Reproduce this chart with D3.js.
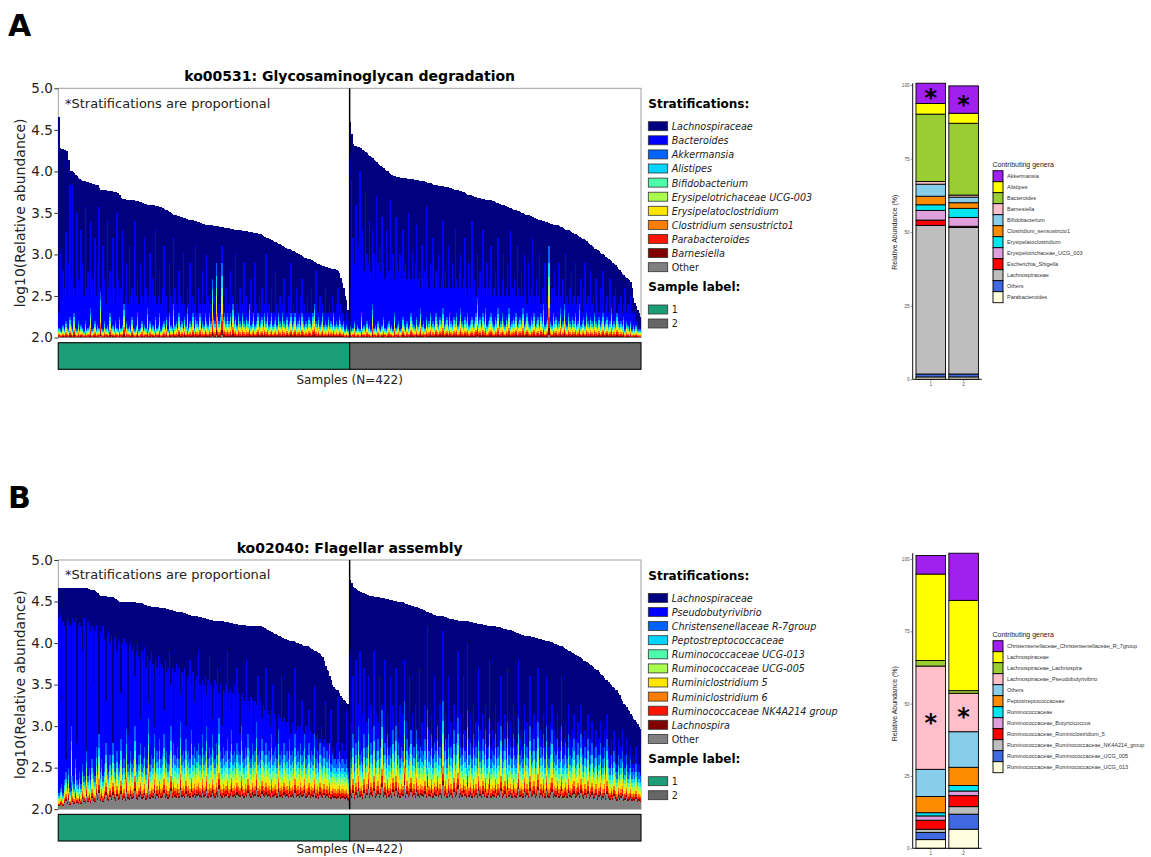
<!doctype html>
<html lang="en">
<head>
<meta charset="utf-8" />
<title>Stratified contributions</title>
<script src="https://d3js.org/d3.v7.min.js"></script>
<script>window.d3 || document.write('<script src="https://cdn.jsdelivr.net/npm/d3@7"><\/script>');</script>
<script>window.d3 || document.write('<script src="https://unpkg.com/d3@7/dist/d3.min.js"><\/script>');</script>
<style>
  body { margin: 0; background: #fff; }
  svg { display: block; font-family: "DejaVu Sans", Verdana, sans-serif; }
</style>
</head>
<body>
<svg id="main" width="1151" height="857"></svg>
<script>
// ---- panel A: ko00531 ----
const taxaA = ['Lachnospiraceae', 'Bacteroides', 'Akkermansia', 'Alistipes', 'Bifidobacterium',
  'Erysipelotrichaceae UCG-003', 'Erysipelatoclostridium', 'Clostridium sensustricto1',
  'Parabacteroides', 'Barnesiella', 'Other'];
// share of the minor band (legend order, Akkermansia ... Other)
const minorShareA = [0.18, 0.16, 0.10, 0.12, 0.12, 0.10, 0.12, 0.07, 0.03];

const totalA1 = [4.66,
  4.28, 4.27, 4.27, 4.26, 4.25, 4.24, 4.14,
  4.01, 4.0, 3.99, 3.98, 3.96, 3.94, 3.92, 3.91, 3.9, 3.89,
  3.88, 3.88, 3.87, 3.87, 3.86, 3.86, 3.85, 3.85, 3.84, 3.84, 3.83, 3.8,
  3.78, 3.78, 3.77, 3.77, 3.77, 3.76, 3.76, 3.76, 3.76, 3.75, 3.75, 3.75, 3.74, 3.74, 3.72,
  3.68, 3.67, 3.67, 3.67, 3.66, 3.66, 3.66, 3.65, 3.65, 3.65, 3.64, 3.64, 3.64, 3.63, 3.63,
  3.62, 3.62, 3.61, 3.61, 3.6, 3.6, 3.6, 3.59, 3.59, 3.59, 3.58, 3.58, 3.58, 3.57, 3.57,
  3.56, 3.55, 3.54, 3.53, 3.52, 3.51, 3.5, 3.49, 3.48, 3.47, 3.47, 3.46, 3.46, 3.45,
  3.45, 3.44, 3.44, 3.43, 3.43, 3.42, 3.42, 3.41, 3.41, 3.4, 3.4, 3.39, 3.39, 3.38, 3.38,
  3.37, 3.37, 3.36, 3.36, 3.36, 3.35, 3.35, 3.35, 3.34, 3.34, 3.34, 3.34, 3.33, 3.33, 3.33, 3.33, 3.32, 3.32, 3.32, 3.32, 3.31, 3.31, 3.31, 3.3,
  3.3, 3.3, 3.29, 3.29, 3.29, 3.28, 3.28, 3.28, 3.28, 3.27, 3.27, 3.27, 3.27, 3.26, 3.26, 3.26, 3.25, 3.25, 3.24,
  3.23, 3.22, 3.21, 3.2, 3.2, 3.19, 3.18, 3.17, 3.16, 3.15, 3.15, 3.14,
  3.13, 3.12, 3.11, 3.1, 3.09, 3.08, 3.07, 3.06, 3.06, 3.05,
  3.04, 3.04, 3.03, 3.02, 3.01, 3.0, 2.99, 2.98, 2.97, 2.96, 2.96, 2.95, 2.95, 2.94, 2.93, 2.92, 2.91, 2.9, 2.89,
  2.88, 2.87, 2.87, 2.86, 2.86, 2.85, 2.85, 2.84, 2.84, 2.83, 2.83, 2.82, 2.82, 2.81,
  2.8, 2.78, 2.72, 2.66, 2.6, 2.5, 2.45, 2.33, 2.25];
const totalA2 = [4.6, 4.45, 4.33, 4.3,
  4.3, 4.29, 4.29, 4.28, 4.28,
  4.26, 4.25, 4.23, 4.22, 4.2, 4.19, 4.17, 4.16, 4.14,
  4.12, 4.11, 4.09, 4.08, 4.06, 4.05, 4.04, 4.02,
  4.01, 4.0, 3.98, 3.97, 3.96, 3.95, 3.94, 3.93,
  3.93, 3.93, 3.92, 3.92, 3.92, 3.92, 3.92, 3.91, 3.91, 3.91, 3.91, 3.91, 3.9, 3.9, 3.9, 3.9, 3.89, 3.89,
  3.88, 3.88, 3.87, 3.87, 3.86, 3.86, 3.86, 3.85, 3.84, 3.84, 3.83,
  3.83, 3.82, 3.82, 3.82, 3.82, 3.81, 3.81, 3.81, 3.81, 3.8, 3.8, 3.79, 3.78,
  3.78, 3.77, 3.77, 3.76, 3.76, 3.75, 3.75, 3.74, 3.73, 3.72, 3.72, 3.71, 3.7, 3.7, 3.69,
  3.69, 3.68, 3.68, 3.68, 3.67, 3.67, 3.67, 3.66, 3.66, 3.66, 3.65, 3.65,
  3.64, 3.64, 3.63, 3.62, 3.62, 3.61, 3.6, 3.6, 3.59, 3.58, 3.58, 3.57,
  3.56, 3.56, 3.55, 3.54, 3.54, 3.53, 3.52, 3.52, 3.51, 3.5, 3.5, 3.49,
  3.48, 3.48, 3.47, 3.46, 3.46, 3.45, 3.44, 3.44, 3.43, 3.42, 3.42, 3.41,
  3.4, 3.4, 3.39, 3.39, 3.38, 3.38, 3.37, 3.37, 3.36, 3.36, 3.35, 3.35,
  3.34, 3.33, 3.33, 3.32, 3.31, 3.3, 3.3, 3.29, 3.28, 3.27, 3.26, 3.25,
  3.24, 3.23, 3.22, 3.21, 3.2, 3.19, 3.18, 3.17, 3.16, 3.14, 3.13, 3.11,
  3.1, 3.09, 3.07, 3.06, 3.05, 3.04, 3.02, 3.01, 3.0, 2.99,
  2.97, 2.96, 2.95, 2.93, 2.92, 2.9, 2.89,
  2.87, 2.85, 2.83, 2.81, 2.79, 2.77, 2.75,
  2.73, 2.72, 2.7, 2.69, 2.67, 2.6,
  2.47, 2.42, 2.38, 2.33, 2.29, 2.25];
// top of the Bacteroides layer (bottom of Lachnospiraceae)
const blueTopA1 = [
  2.3, 3.0, 2.4, 2.8, 2.6, 3.27, 2.5, 2.9, 3.84, 2.7, 3.84, 2.6, 2.5, 3.5, 2.7,
  2.6, 3.3, 2.9, 2.5, 3.57, 2.6, 2.8, 2.5, 3.4, 2.7, 2.6, 3.2, 2.5, 2.9, 3.57,
  2.6, 2.5, 3.1, 2.7, 2.4, 3.4, 2.6, 2.8, 2.5, 3.2, 2.6, 2.4, 3.5, 2.7, 2.5,
  2.6, 3.3, 2.4, 2.5, 2.9, 2.4, 3.1, 2.5, 2.6, 2.4, 3.4, 2.5, 2.7, 2.4, 2.9,
  2.5, 2.4, 3.2, 2.6, 2.4, 2.5, 3.0, 2.4, 2.7, 2.5, 3.3, 2.4, 2.5, 2.8, 2.4,
  2.6, 3.1, 2.4, 2.5, 2.3, 2.9, 2.5, 2.4, 3.2, 2.6, 2.4, 2.3, 2.8, 2.5, 2.4,
  3.0, 2.4, 2.3, 2.6, 2.4, 2.9, 2.3, 2.5, 2.4, 3.1, 2.3, 2.6, 2.4, 2.3, 2.8,
  2.4, 2.3, 3.0, 2.5, 2.3, 2.4, 2.7, 2.3, 2.5, 2.9, 2.3, 2.4, 2.3, 3.1, 2.4,
  2.3, 2.6, 2.3, 2.4, 2.8, 2.3, 2.5, 2.3, 3.0, 2.4, 2.3, 2.6, 2.3, 2.4, 2.9,
  2.3, 2.5, 2.3, 2.4, 2.7, 2.3, 2.3, 2.9, 2.4, 2.3, 2.5, 2.3, 2.6, 2.3, 2.4,
  3.0, 2.3, 2.4, 2.3, 2.6, 2.3, 2.3, 2.8, 2.4, 2.3, 2.5, 2.3, 2.4, 2.7, 2.3,
  2.3, 2.5, 2.3, 2.9, 2.3, 2.4, 2.3, 2.6, 2.3, 2.3, 2.5, 2.7, 2.3, 2.4, 2.3,
  2.5, 2.3, 2.3, 2.6, 2.3, 2.4, 2.8, 2.3, 2.3, 2.5, 2.3, 2.4, 2.3, 2.6, 2.3,
  2.3, 2.4, 2.3, 2.5, 2.3, 2.3, 2.4, 2.6, 2.3, 2.4, 2.3, 2.3, 2.2, 2.3, 2.2,
  2.2];
const blueTopA2 = [
  4.2, 3.9, 3.2, 2.9, 3.6, 2.8, 3.1, 4.0, 2.9, 3.3, 2.8, 3.75, 3.0, 2.9, 3.4,
  2.8, 3.3, 3.0, 2.7, 3.7, 2.9, 3.1, 2.8, 3.45, 2.9, 2.7, 3.3, 3.0, 2.8, 3.65,
  2.8, 3.0, 2.7, 3.45, 2.9, 2.8, 3.0, 2.7, 3.3, 2.8, 2.9, 2.7, 3.5, 2.8, 2.7,
  3.0, 2.7, 2.9, 3.35, 2.7, 2.8, 2.6, 3.1, 2.7, 2.8, 3.6, 2.7, 2.6, 2.9, 2.7,
  3.2, 2.6, 2.8, 2.7, 3.0, 2.6, 2.7, 3.4, 2.6, 2.8, 2.6, 3.1, 2.7, 2.6, 2.9,
  2.6, 3.3, 2.7, 2.6, 2.8, 3.0, 2.6, 2.7, 3.2, 2.6, 2.5, 2.9, 2.6, 3.4, 2.6,
  2.7, 2.5, 3.0, 2.6, 2.8, 2.5, 3.3, 2.6, 2.5, 2.9, 2.6, 2.7, 3.1, 2.5, 2.6,
  2.8, 2.5, 3.2, 2.6, 2.5, 2.7, 3.0, 2.5, 2.6, 2.9, 2.5, 3.3, 2.6, 2.5, 2.7,
  2.5, 3.1, 2.6, 2.5, 2.8, 2.5, 3.0, 2.6, 2.4, 2.9, 2.5, 2.6, 3.2, 2.5, 2.4,
  2.7, 2.5, 3.0, 2.4, 2.6, 2.5, 2.9, 2.4, 2.5, 3.1, 2.4, 2.6, 2.4, 2.8, 2.5,
  2.4, 2.9, 2.5, 2.4, 2.7, 2.4, 3.0, 2.5, 2.4, 2.6, 2.8, 2.4, 2.5, 2.9, 2.4,
  2.5, 2.4, 2.7, 2.3, 2.6, 2.9, 2.4, 2.5, 2.3, 2.8, 2.4, 2.5, 2.3, 2.7, 2.4,
  2.3, 2.6, 2.4, 2.8, 2.3, 2.4, 2.5, 2.3, 2.7, 2.4, 2.3, 2.5, 2.6, 2.3, 2.4,
  2.3, 2.5, 2.3, 2.4, 2.6, 2.3, 2.4, 2.3, 2.5, 2.3, 2.2, 2.3, 2.2, 2.2, 2.1,
  2.1];
// top of the minor genera band
const minorTopA1 = [
  2.12, 2.1, 2.08, 2.15, 2.1, 2.2, 2.12, 2.1, 2.25, 2.15, 2.1, 2.3, 2.12, 2.1, 2.2,
  2.1, 2.15, 2.12, 2.08, 2.2, 2.1, 2.12, 2.15, 2.35, 2.1, 2.12, 2.2, 2.1, 2.15, 2.12,
  2.55, 2.12, 2.1, 2.2, 2.12, 2.15, 2.1, 2.3, 2.12, 2.15, 2.1, 2.2, 2.12, 2.1, 2.25,
  2.12, 2.15, 2.45, 2.1, 2.2, 2.12, 2.15, 2.1, 2.25, 2.12, 2.1, 2.15, 2.3, 2.1, 2.12,
  2.2, 2.1, 2.15, 2.12, 2.35, 2.1, 2.2, 2.12, 2.15, 2.1, 2.25, 2.12, 2.15, 2.3, 2.1,
  2.15, 2.2, 2.12, 2.25, 2.1, 2.3, 2.15, 2.12, 2.4, 2.15, 2.2, 2.12, 2.3, 2.15, 2.2,
  2.12, 2.25, 2.15, 2.35, 2.12, 2.2, 2.15, 2.3, 2.12, 2.25, 2.2, 2.15, 2.3, 2.12, 2.2,
  2.15, 2.4, 2.2, 2.15, 2.3, 2.2, 2.95, 2.25, 2.2, 2.93, 2.3, 2.2, 2.35, 2.9, 2.25,
  2.3, 2.2, 2.45, 2.2, 2.3, 2.15, 2.4, 2.2, 2.25, 2.15, 2.35, 2.2, 2.15, 2.3, 2.2,
  2.15, 2.25, 2.2, 2.4, 2.15, 2.2, 2.3, 2.15, 2.2, 2.35, 2.15, 2.2, 2.25, 2.15, 2.3,
  2.2, 2.5, 2.15, 2.2, 2.3, 2.15, 2.2, 2.25, 2.15, 2.35, 2.2, 2.15, 2.3, 2.2, 2.15,
  2.25, 2.15, 2.2, 2.3, 2.15, 2.2, 2.35, 2.15, 2.2, 2.25, 2.15, 2.3, 2.2, 2.15, 2.2,
  2.15, 2.25, 2.2, 2.15, 2.3, 2.87, 2.2, 2.15, 2.25, 2.15, 2.2, 2.3, 2.15, 2.2, 2.15,
  2.25, 2.15, 2.2, 2.15, 2.3, 2.15, 2.2, 2.15, 2.25, 2.2, 2.15, 2.2, 2.1, 2.15, 2.1,
  2.1];
const minorTopA2 = [
  2.15, 2.1, 2.12, 2.2, 2.1, 2.15, 2.12, 2.1, 2.3, 2.12, 2.15, 2.1, 2.2, 2.12, 2.15,
  2.1, 2.4, 2.12, 2.15, 2.1, 2.2, 2.12, 2.1, 2.15, 2.25, 2.12, 2.1, 2.15, 2.2, 2.12,
  2.15, 2.1, 2.3, 2.12, 2.15, 2.2, 2.1, 2.12, 2.25, 2.15, 2.1, 2.2, 2.12, 2.15, 2.3,
  2.2, 2.15, 2.12, 2.25, 2.15, 2.2, 2.35, 2.15, 2.2, 2.12, 2.25, 2.15, 2.2, 2.3, 2.15,
  2.2, 2.15, 2.3, 2.2, 2.15, 2.25, 2.2, 2.35, 2.15, 2.2, 2.25, 2.15, 2.3, 2.2, 2.15,
  2.25, 2.2, 2.3, 2.15, 2.2, 2.35, 2.2, 2.15, 2.25, 2.2, 2.3, 2.15, 2.2, 2.25, 2.15,
  2.2, 2.3, 2.47, 2.2, 2.25, 2.15, 2.3, 2.2, 2.35, 2.15, 2.2, 2.25, 2.3, 2.2, 2.15,
  2.25, 2.2, 2.35, 2.15, 2.2, 2.3, 2.2, 2.15, 2.25, 2.2, 2.35, 2.15, 2.2, 2.25, 2.2,
  2.3, 2.15, 2.2, 2.25, 2.2, 2.35, 2.15, 2.2, 2.3, 2.2, 2.15, 2.25, 2.2, 2.3, 2.15,
  2.2, 2.25, 2.15, 2.3, 2.2, 2.4, 2.15, 2.2, 2.25, 3.15, 2.2, 2.15, 2.3, 2.2, 2.25,
  2.15, 2.2, 2.35, 2.15, 2.2, 2.45, 2.2, 2.15, 2.3, 2.2, 2.15, 2.25, 2.2, 2.3, 2.15,
  2.2, 2.4, 2.15, 2.2, 2.25, 2.15, 2.3, 2.2, 2.15, 2.25, 2.2, 2.15, 2.3, 2.2, 2.15,
  2.25, 2.15, 2.2, 2.3, 2.15, 2.2, 2.25, 2.15, 2.2, 2.35, 2.15, 2.2, 2.15, 2.45, 2.2,
  2.15, 2.2, 2.15, 2.25, 2.1, 2.2, 2.15, 2.1, 2.2, 2.1, 2.15, 2.1, 2.15, 2.1, 2.1,
  2.1];

// ---- panel B: ko02040 ----
const taxaB = ['Lachnospiraceae', 'Pseudobutyrivibrio', 'Christensenellaceae R-7group',
  'Peptostreptococcaceae', 'Ruminococcaceae UCG-013', 'Ruminococcaceae UCG-005',
  'Ruminiclostridium 5', 'Ruminiclostridium 6', 'Ruminococcaceae NK4A214 group',
  'Lachnospira', 'Other'];
const minorShareB = [0.18, 0.12, 0.10, 0.10, 0.10, 0.07, 0.07, 0.04, 0.22];

const totalB1 = [
  4.66, 4.66, 4.66, 4.66, 4.66, 4.66, 4.66, 4.66, 4.66, 4.66, 4.66, 4.66, 4.66, 4.66, 4.66, 4.66, 4.66, 4.66, 4.66, 4.66, 4.66,
  4.65, 4.65, 4.64, 4.64, 4.64, 4.63,
  4.62, 4.6, 4.58,
  4.57, 4.57, 4.57, 4.57, 4.57, 4.56, 4.56, 4.56, 4.56, 4.55,
  4.54, 4.53, 4.52, 4.51,
  4.5, 4.5, 4.5, 4.5, 4.5, 4.49, 4.49, 4.49, 4.49, 4.49, 4.49, 4.49, 4.48, 4.48, 4.48, 4.48, 4.48, 4.47,
  4.46, 4.46, 4.45, 4.45, 4.45, 4.44, 4.44, 4.44, 4.43, 4.43, 4.43, 4.42, 4.42, 4.42, 4.42, 4.42, 4.41, 4.41, 4.4,
  4.4, 4.4, 4.39, 4.39, 4.38, 4.38, 4.38, 4.37, 4.37, 4.36, 4.36, 4.35, 4.35, 4.34,
  4.34, 4.33, 4.33, 4.33, 4.32, 4.32, 4.31, 4.31, 4.31, 4.3, 4.3, 4.3, 4.29, 4.29, 4.28,
  4.28, 4.28, 4.27, 4.27, 4.27, 4.27, 4.26, 4.26, 4.26, 4.26, 4.25, 4.25, 4.25, 4.24,
  4.24, 4.24, 4.23, 4.23, 4.23, 4.23, 4.22, 4.22, 4.22, 4.22, 4.22, 4.22, 4.21, 4.21, 4.21, 4.21, 4.21, 4.21, 4.2, 4.2, 4.2, 4.2, 4.2, 4.19, 4.19,
  4.18, 4.17, 4.16, 4.15, 4.14, 4.13, 4.12, 4.11, 4.11, 4.1, 4.09, 4.08,
  4.07, 4.06, 4.05, 4.05, 4.04, 4.04, 4.03, 4.03, 4.02, 4.02, 4.01, 4.0, 4.0, 3.99, 3.99, 3.98, 3.97,
  3.97, 3.96, 3.96, 3.95, 3.94, 3.93, 3.92, 3.91, 3.9, 3.89, 3.88, 3.87, 3.85,
  3.83, 3.78, 3.72, 3.68,
  3.66, 3.6, 3.55, 3.5, 3.47, 3.45, 3.44,
  3.43, 3.4, 3.36, 3.34, 3.32,
  3.3, 3.28, 3.27, 3.1];
const totalB2 = [
  4.76, 4.72, 4.67, 4.66, 4.65,
  4.64, 4.63, 4.62, 4.61, 4.6, 4.6, 4.59,
  4.58, 4.58, 4.57, 4.57, 4.57, 4.56, 4.56, 4.55, 4.55, 4.55,
  4.54, 4.54, 4.54, 4.53, 4.53, 4.53, 4.52, 4.52, 4.52, 4.51, 4.51, 4.51, 4.5, 4.5,
  4.5, 4.49, 4.49, 4.48, 4.47, 4.47, 4.46, 4.46, 4.45, 4.45,
  4.44, 4.43, 4.43, 4.42, 4.42, 4.41, 4.41, 4.4, 4.39, 4.38, 4.37, 4.36, 4.36, 4.35,
  4.34, 4.34, 4.33, 4.33, 4.33, 4.32, 4.32, 4.32, 4.31, 4.31, 4.3, 4.3, 4.29, 4.29, 4.29,
  4.28, 4.28, 4.28, 4.27, 4.27, 4.27, 4.27, 4.26, 4.26, 4.26, 4.26, 4.25, 4.25, 4.25, 4.24, 4.24, 4.24, 4.23, 4.23,
  4.23, 4.23, 4.22, 4.22, 4.22, 4.21, 4.21, 4.21, 4.2, 4.2, 4.2, 4.2, 4.19, 4.19, 4.19, 4.18, 4.18, 4.17, 4.17, 4.17, 4.16, 4.16,
  4.16, 4.15, 4.14, 4.13, 4.12, 4.12, 4.11, 4.11, 4.1, 4.1, 4.09, 4.09, 4.08, 4.08, 4.08, 4.07, 4.07,
  4.07, 4.06, 4.06, 4.05, 4.05, 4.05, 4.04, 4.04, 4.03, 4.03, 4.03, 4.02, 4.01, 4.01, 4.0, 3.99, 3.99, 3.98, 3.97,
  3.97, 3.96, 3.95, 3.94, 3.93, 3.92, 3.91, 3.9, 3.89, 3.88, 3.87, 3.86, 3.85, 3.84, 3.83, 3.82, 3.81, 3.79, 3.78,
  3.77, 3.76, 3.75, 3.73, 3.72, 3.71, 3.69, 3.68, 3.67, 3.65, 3.63, 3.62, 3.6, 3.58, 3.56,
  3.55, 3.53, 3.51, 3.49, 3.47, 3.46, 3.44, 3.43, 3.4, 3.37, 3.33, 3.3,
  3.27, 3.25, 3.23, 3.2, 3.18, 3.15, 3.12,
  3.09, 3.07, 3.05, 3.02, 2.99, 2.97];
const blueTopB1 = [
  4.3, 4.35, 3.3, 4.25, 4.2, 2.6, 4.3, 4.25, 4.2, 3.0, 4.3, 4.25, 4.3, 2.8, 4.2,
  4.25, 4.2, 3.9, 4.3, 4.2, 2.7, 4.25, 4.2, 4.15, 4.2, 3.5, 4.15, 4.2, 4.1, 2.9,
  4.15, 4.1, 4.2, 4.05, 3.3, 4.1, 4.15, 4.0, 4.1, 2.8, 4.05, 4.1, 3.9, 4.05, 4.0,
  3.4, 4.0, 4.05, 3.95, 4.0, 2.9, 3.95, 4.0, 3.9, 3.95, 3.6, 3.9, 4.0, 3.85, 3.1,
  3.9, 3.8, 3.95, 3.7, 3.85, 3.3, 3.8, 3.9, 3.75, 3.0, 3.8, 3.7, 3.85, 3.6, 3.75,
  3.7, 3.2, 3.8, 3.65, 3.7, 3.9, 3.5, 3.7, 2.9, 3.65, 3.75, 3.6, 3.7, 3.4, 3.65,
  3.6, 3.7, 3.0, 3.55, 3.6, 3.8, 3.5, 3.65, 3.3, 3.55, 3.6, 3.9, 3.5, 2.9, 3.55,
  3.5, 3.6, 3.4, 3.55, 3.85, 3.5, 3.1, 3.45, 3.55, 3.5, 3.7, 3.4, 3.5, 3.0, 3.45,
  3.4, 3.5, 3.9, 3.4, 3.45, 3.2, 3.4, 3.5, 3.35, 3.7, 3.4, 2.9, 3.35, 3.4, 3.3,
  3.35, 3.8, 3.3, 3.2, 3.35, 3.3, 2.9, 3.3, 3.25, 3.6, 3.2, 3.3, 3.1, 3.25, 3.2,
  3.7, 3.2, 3.15, 3.0, 3.2, 3.5, 3.15, 3.1, 2.8, 3.15, 3.1, 3.6, 3.05, 3.1, 3.0,
  3.05, 3.4, 3.0, 2.9, 3.05, 3.0, 3.7, 2.95, 3.0, 2.8, 3.0, 3.3, 2.95, 2.9, 3.0,
  2.9, 3.2, 2.95, 2.8, 2.9, 3.5, 2.85, 2.9, 2.7, 2.85, 3.0, 2.8, 2.85, 3.3, 2.8,
  2.75, 2.8, 3.2, 2.7, 2.75, 2.6, 2.8, 3.35, 2.7, 2.65, 2.8, 2.6, 2.7, 3.2, 2.6,
  2.5];
const blueTopB2 = [
  3.9, 3.05, 3.6, 2.85, 3.8, 2.95, 3.25, 3.9, 2.75, 3.15, 3.7, 2.85, 3.05, 3.6, 2.75,
  3.25, 2.95, 3.9, 2.85, 3.15, 3.05, 3.6, 2.75, 3.25, 2.95, 3.8, 2.85, 3.15, 2.75, 3.6,
  2.95, 3.25, 2.75, 3.7, 3.05, 2.85, 3.25, 2.75, 3.15, 3.8, 2.85, 3.05, 2.75, 3.6, 2.95,
  3.15, 2.75, 3.25, 2.95, 2.85, 3.7, 2.75, 3.05, 2.85, 3.25, 2.75, 4.2, 2.95, 2.85, 3.15,
  2.75, 3.6, 2.85, 3.05, 2.75, 3.25, 2.95, 4.15, 2.75, 3.15, 2.85, 3.6, 2.75, 3.05, 2.85,
  3.25, 2.75, 3.05, 3.9, 2.85, 3.15, 2.75, 3.6, 2.95, 2.75, 4.0, 2.85, 3.15, 2.75, 3.25,
  2.85, 3.05, 2.75, 3.7, 2.95, 2.75, 3.15, 2.85, 3.25, 2.75, 3.05, 3.8, 2.75, 2.95, 2.85,
  3.25, 2.75, 3.05, 2.85, 3.6, 2.75, 2.95, 3.15, 2.75, 3.7, 2.85, 3.05, 2.75, 3.25, 2.85,
  2.75, 3.15, 3.8, 2.85, 2.95, 2.75, 3.25, 2.85, 3.05, 2.75, 3.6, 2.85, 2.95, 3.15, 2.75,
  3.05, 3.7, 2.75, 2.95, 2.85, 3.15, 2.75, 3.6, 2.85, 2.75, 3.05, 3.25, 2.75, 2.95, 2.85,
  3.15, 2.75, 2.95, 3.6, 2.75, 2.85, 3.05, 2.75, 3.25, 2.85, 2.75, 2.95, 3.15, 2.75, 2.85,
  3.05, 2.75, 3.25, 2.85, 2.65, 2.95, 2.75, 3.15, 2.65, 2.85, 3.05, 2.65, 2.75, 2.95, 2.65,
  2.85, 3.05, 2.65, 2.75, 2.95, 2.65, 3.15, 2.75, 2.65, 2.85, 2.65, 2.95, 2.75, 2.55, 2.85,
  2.65, 2.75, 2.95, 2.55, 2.65, 2.85, 2.55, 2.65, 2.75, 2.55, 2.65, 2.55, 2.75, 2.45, 2.55,
  2.45];
const minorTopB1 = [
  2.2, 2.25, 2.3, 2.2, 2.35, 2.45, 2.3, 2.5, 2.25, 3.33, 2.4, 2.3, 2.6, 2.35, 2.3,
  2.45, 2.3, 2.55, 2.4, 2.35, 2.7, 2.4, 2.5, 2.35, 2.6, 2.45, 2.4, 2.75, 2.5, 3.05,
  2.45, 2.6, 2.4, 2.55, 2.8, 2.5, 2.45, 2.65, 2.5, 2.9, 2.55, 2.45, 2.7, 2.5, 2.55,
  2.85, 2.5, 2.6, 2.45, 2.95, 2.55, 2.5, 2.7, 2.55, 2.6, 3.0, 2.55, 2.5, 2.65, 2.8,
  2.55, 2.6, 2.75, 2.5, 2.6, 3.1, 2.55, 2.65, 2.6, 2.9, 2.55, 2.7, 2.6, 2.85, 2.6,
  2.65, 2.9, 2.6, 2.7, 2.55, 2.65, 3.0, 2.6, 2.8, 2.65, 2.6, 2.75, 2.6, 3.05, 2.65,
  2.7, 2.6, 2.85, 2.65, 2.7, 2.6, 2.95, 2.65, 2.75, 2.6, 2.7, 2.8, 2.65, 2.6, 2.9,
  2.65, 2.7, 3.0, 2.6, 2.75, 2.65, 2.9, 2.7, 2.6, 2.8, 2.65, 3.1, 2.7, 2.6, 2.75,
  2.65, 2.7, 2.85, 2.6, 2.7, 2.95, 2.65, 2.7, 2.6, 2.8, 2.7, 2.65, 3.0, 2.7, 2.6,
  2.75, 2.65, 2.9, 2.7, 2.6, 2.8, 2.65, 2.7, 3.05, 2.65, 2.7, 2.6, 2.85, 2.7, 2.65,
  2.8, 2.65, 2.7, 2.6, 2.9, 2.65, 2.7, 2.75, 2.6, 2.95, 2.65, 2.7, 2.6, 2.8, 2.65,
  2.7, 2.6, 2.85, 2.65, 2.7, 2.6, 2.9, 2.65, 2.7, 2.6, 2.8, 2.65, 2.7, 3.0, 2.6,
  2.65, 2.8, 2.6, 2.7, 2.65, 2.9, 2.6, 2.7, 2.55, 2.8, 2.65, 2.6, 2.75, 2.6, 2.7,
  2.6, 2.85, 2.55, 2.65, 2.6, 2.75, 2.55, 2.6, 2.9, 2.55, 2.6, 2.7, 2.55, 2.6, 2.5,
  2.45];
const minorTopB2 = [
  2.7, 2.6, 2.9, 2.55, 2.8, 2.6, 3.0, 2.65, 2.7, 2.55, 2.9, 2.6, 2.75, 3.1, 2.6,
  2.8, 2.65, 3.0, 2.6, 2.7, 2.85, 2.6, 2.75, 3.2, 2.65, 2.8, 2.6, 2.9, 2.65, 2.75,
  2.6, 2.95, 2.7, 3.0, 2.65, 2.8, 2.6, 2.9, 2.7, 3.3, 2.6, 2.85, 2.65, 2.75, 3.0,
  2.65, 2.8, 2.6, 2.95, 2.7, 2.6, 3.1, 2.7, 2.65, 2.85, 2.6, 3.2, 2.7, 2.65, 2.9,
  2.6, 2.8, 2.7, 3.0, 2.65, 2.75, 2.6, 3.3, 2.7, 2.85, 2.6, 2.9, 2.65, 2.75, 2.6,
  2.95, 2.65, 2.8, 3.1, 2.6, 2.75, 2.65, 2.9, 2.7, 2.6, 3.2, 2.65, 2.8, 2.6, 2.9,
  2.65, 2.75, 2.6, 3.0, 2.7, 2.6, 2.85, 2.65, 2.95, 2.6, 2.75, 3.1, 2.6, 2.7, 2.65,
  2.9, 2.6, 2.75, 2.65, 3.0, 2.6, 2.7, 2.85, 2.6, 3.05, 2.65, 2.75, 2.6, 2.9, 2.65,
  2.6, 2.8, 3.1, 2.65, 2.7, 2.6, 2.95, 2.65, 2.75, 2.6, 3.0, 2.65, 2.7, 2.85, 2.6,
  2.7, 3.05, 2.6, 2.75, 2.65, 2.9, 2.6, 3.0, 2.65, 2.6, 2.8, 2.95, 2.6, 2.7, 2.65,
  2.85, 2.6, 2.7, 3.0, 2.6, 2.65, 2.8, 2.6, 2.9, 2.65, 2.6, 2.75, 2.85, 2.6, 2.65,
  2.8, 2.6, 2.9, 2.65, 2.55, 2.75, 2.6, 2.85, 2.55, 2.65, 2.8, 2.55, 2.6, 2.75, 2.5,
  2.65, 2.8, 2.5, 2.6, 2.75, 2.5, 2.85, 2.6, 2.5, 2.65, 2.5, 2.7, 2.55, 2.45, 2.65,
  2.5, 2.6, 2.7, 2.45, 2.5, 2.65, 2.45, 2.5, 2.6, 2.45, 2.5, 2.45, 2.55, 2.4, 2.45,
  2.4];

// ---- contributing genera (right-hand stacked bars) ----
const genusA = ['Akkermansia', 'Alistipes', 'Bacteroides', 'Barnesiella', 'Bifidobacterium',
  'Clostridium_sensustricto1', 'Erysipelatoclostridium', 'Erysipelotrichaceae_UCG_003',
  'Escherichia_Shigella', 'Lachnospiraceae', 'Others', 'Parabacteroides'];
const abundA1 = [6.9, 3.6, 22.9, 0.9, 4.1, 2.9, 1.9, 3.3, 1.8, 50.5, 1.0, 0.8];
const abundA2 = [9.3, 3.4, 24.4, 0.7, 1.9, 1.9, 3.1, 3.0, 0.4, 49.8, 1.0, 0.8];
const genusB = ['Christensenellaceae_Christensenellaceae_R_7group', 'Lachnospiraceae',
  'Lachnospiraceae_Lachnospira', 'Lachnospiraceae_Pseudobutyrivibrio', 'Others',
  'Peptostreptococcaceae', 'Ruminococcaceae', 'Ruminococcaceae_Butyricicoccus',
  'Ruminococcaceae_Ruminiclostridium_5', 'Ruminococcaceae_Ruminococcaceae_NK4A214_group',
  'Ruminococcaceae_Ruminococcaceae_UCG_005', 'Ruminococcaceae_Ruminococcaceae_UCG_013'];
const abundB1 = [6.4, 29.9, 1.9, 35.7, 9.4, 5.6, 1.1, 1.5, 3.1, 1.1, 2.5, 3.0];
const abundB2 = [16.3, 31.2, 0.9, 13.3, 12.3, 6.3, 1.9, 1.6, 3.8, 2.6, 5.2, 6.6];

const STRAT_COLORS = ['#000080', '#0000FF', '#0063FF', '#00D4FF', '#4DFFAA', '#AAFF4D',
  '#FFE600', '#FF7D00', '#FF1400', '#800000', '#808080'];
const SAMPLE_COLORS = ['#1B9E77', '#666666'];
const GENUS_COLORS = ['#A020F0', '#FFFF00', '#9ACD32', '#FFC0CB', '#87CEEB', '#FF8C00',
  '#00E5EE', '#DDA0DD', '#FF0000', '#BEBEBE', '#4169E1', '#FFFFE0'];

const svg = d3.select('#main');

function segmentsFor(total, blueTop, minorTop, share) {
  const b = Math.min(blueTop, total);
  const m = Math.min(minorTop, b);
  const segs = [];
  let acc = 2;
  // minor taxa bottom-up: walk the legend order backwards
  for (let k = share.length - 1; k >= 0; k--) {
    const h = (m - 2) * share[k];
    segs.push({ y0: acc, y1: acc + h, c: STRAT_COLORS[k + 2] });
    acc += h;
  }
  segs.push({ y0: m, y1: b, c: STRAT_COLORS[1] });
  segs.push({ y0: b, y1: total, c: STRAT_COLORS[0] });
  return segs;
}

function drawStrat(cfg) {
  const top = cfg.top;
  const left = 58.3, right = 641, bottom = top + 249.2;
  const g = svg.append('g');
  const totals = cfg.total1.concat(cfg.total2);
  const blues = cfg.blue1.concat(cfg.blue2);
  const minors = cfg.minor1.concat(cfg.minor2);
  const n1 = cfg.total1.length;
  const x = d3.scaleBand().domain(d3.range(totals.length)).range([left, right]);
  const y = d3.scaleLinear().domain([2, 5]).range([bottom, top]);

  g.append('text').attr('x', 8).attr('y', top - 52).attr('font-size', 30).attr('font-weight', 'bold').text(cfg.letter);
  g.append('text').attr('x', x(n1)).attr('y', top - 7.3).attr('text-anchor', 'middle')
    .attr('font-size', 14).attr('font-weight', 'bold').text(cfg.title);

  g.append('rect').attr('x', left).attr('y', top).attr('width', right - left).attr('height', bottom - top)
    .attr('fill', 'none').attr('stroke', '#a0a0a0');

  const segs = totals.flatMap((t, i) =>
    segmentsFor(t, blues[i] ?? 2, minors[i] ?? 2, cfg.share).map(s => ({ ...s, i })));
  g.append('g').attr('shape-rendering', 'crispEdges')
    .selectAll('rect').data(segs.filter(s => s.y1 > s.y0)).join('rect')
    .attr('x', d => x(d.i)).attr('width', x.bandwidth() + 0.4)
    .attr('y', d => y(d.y1)).attr('height', d => y(d.y0) - y(d.y1))
    .attr('fill', d => d.c);

  g.append('line').attr('x1', x(n1)).attr('x2', x(n1)).attr('y1', top).attr('y2', bottom)
    .attr('stroke', '#000').attr('stroke-width', 1.5);

  const yAxis = d3.axisLeft(y).tickValues([2, 2.5, 3, 3.5, 4, 4.5, 5])
    .tickFormat(d3.format('.1f')).tickSize(4).tickPadding(1.5);
  g.append('g').attr('transform', `translate(${left},0)`).call(yAxis)
    .attr('font-family', null).attr('font-size', 13.5)
    .call(a => a.select('.domain').remove())
    .call(a => a.selectAll('line').attr('stroke', '#333'))
    .call(a => a.selectAll('text').attr('fill', '#222'));

  g.append('text').attr('transform', `translate(25,${(top + bottom) / 2}) rotate(-90)`)
    .attr('text-anchor', 'middle').attr('font-size', 14).attr('fill', '#222').text('log10(Relative abundance)');

  g.append('text').attr('x', 65).attr('y', top + 19.3).attr('font-size', 13).attr('fill', '#222')
    .text('*Stratifications are proportional');

  // sample label strip
  const groups = [{ x0: left, x1: x(n1) }, { x0: x(n1), x1: right }];
  g.selectAll('rect.strip').data(groups).join('rect').attr('class', 'strip')
    .attr('x', d => d.x0).attr('width', d => d.x1 - d.x0)
    .attr('y', bottom + 5.2).attr('height', 26.6)
    .attr('fill', (d, i) => SAMPLE_COLORS[i]).attr('stroke', '#111').attr('stroke-width', 1.2);
  g.append('text').attr('x', x(n1)).attr('y', bottom + cfg.samplesDy).attr('text-anchor', 'middle')
    .attr('font-size', 12).attr('fill', '#222').text(`Samples (N=${totals.length})`);

  // legend
  const lg = g.append('g').attr('transform', `translate(648.3,${top})`);
  lg.append('text').attr('y', 20).attr('font-size', 12).attr('font-weight', 'bold').text('Stratifications:');
  const items = lg.selectAll('g.item').data(cfg.taxa).join('g').attr('class', 'item')
    .attr('transform', (d, i) => `translate(0,${33.4 + i * 14.1})`);
  items.append('rect').attr('width', 19.4).attr('height', 9)
    .attr('fill', (d, i) => STRAT_COLORS[i]).attr('stroke', '#333').attr('stroke-width', 0.8);
  items.append('text').attr('x', 23.4).attr('y', 8.4).attr('font-size', 9.6)
    .attr('font-style', d => d === 'Other' ? 'normal' : 'italic').attr('fill', '#222').text(d => d);

  lg.append('text').attr('y', 202.7).attr('font-size', 12).attr('font-weight', 'bold').text('Sample label:');
  const sItems = lg.selectAll('g.sitem').data(['1', '2']).join('g').attr('class', 'sitem')
    .attr('transform', (d, i) => `translate(0,${216.7 + i * 14})`);
  sItems.append('rect').attr('width', 19.4).attr('height', 9)
    .attr('fill', (d, i) => SAMPLE_COLORS[i]).attr('stroke', '#333').attr('stroke-width', 0.8);
  sItems.append('text').attr('x', 23.4).attr('y', 8.4).attr('font-size', 9.6).attr('fill', '#222').text(d => d);
}

function drawAbund(cfg) {
  const g = svg.append('g').attr('font-family', '"Liberation Sans", Arial, sans-serif');
  const x = d3.scaleBand().domain(['1', '2']).range([912.7, 981.7]).paddingInner(0.1).paddingOuter(0.1);
  const y = d3.scaleLinear().domain([0, 100]).range([cfg.y0, cfg.y100]);
  const rows = [cfg.abund1, cfg.abund2].map((vals, j) => {
    const row = { group: String(j + 1) };
    cfg.genus.forEach((name, k) => { row[name] = vals[k]; });
    return row;
  });
  const keys = cfg.genus.slice().reverse();
  const series = d3.stack().keys(keys)(rows);
  const maxTop = d3.max(series[series.length - 1], d => d[1]);

  series.forEach(s => {
    const k = cfg.genus.indexOf(s.key);
    g.selectAll(null).data(s).join('rect')
      .attr('x', d => x(d.data.group)).attr('width', x.bandwidth())
      .attr('y', d => y(d[1])).attr('height', d => y(d[0]) - y(d[1]))
      .attr('fill', GENUS_COLORS[k]).attr('stroke', '#000').attr('stroke-width', 0.9);
    if (s.key === cfg.sig) {
      g.selectAll(null).data(s).join('text')
        .attr('x', d => x(d.data.group) + x.bandwidth() / 2)
        .attr('y', d => (y(d[0]) + y(d[1])) / 2 + 13)
        .attr('text-anchor', 'middle').attr('font-family', '"DejaVu Sans", sans-serif')
        .attr('font-size', 24).attr('font-weight', 'bold').text('*');
    }
  });

  g.append('line').attr('x1', 912.7).attr('x2', 912.7).attr('y1', y(0)).attr('y2', y(maxTop))
    .attr('stroke', '#111').attr('stroke-width', 1);
  g.append('line').attr('x1', 912.7).attr('x2', 981.7).attr('y1', y(0)).attr('y2', y(0))
    .attr('stroke', '#111').attr('stroke-width', 1);

  const yAxis = d3.axisLeft(y).tickValues([0, 25, 50, 75, 100]).tickSize(2).tickPadding(1.2);
  g.append('g').attr('transform', 'translate(912.7,0)').call(yAxis)
    .attr('font-family', null).attr('font-size', 4.6)
    .call(a => a.select('.domain').remove())
    .call(a => a.selectAll('line').attr('stroke', '#333').attr('stroke-width', 0.6))
    .call(a => a.selectAll('text').attr('fill', '#4d4d4d'));
  const xAxis = d3.axisBottom(x).tickSize(2).tickPadding(1.5);
  g.append('g').attr('transform', `translate(0,${y(0)})`).call(xAxis)
    .attr('font-family', null).attr('font-size', 4.6)
    .call(a => a.select('.domain').remove())
    .call(a => a.selectAll('line').attr('stroke', '#333').attr('stroke-width', 0.6))
    .call(a => a.selectAll('text').attr('fill', '#4d4d4d'));

  g.append('text').attr('transform', `translate(897,${(y(0) + y(100)) / 2}) rotate(-90)`)
    .attr('text-anchor', 'middle').attr('font-size', 7).attr('fill', '#222').text('Relative Abundance (%)');

  const lg = g.append('g').attr('transform', `translate(993,${cfg.legendTop})`);
  lg.append('text').attr('x', -0.5).attr('y', -4).attr('font-size', 7).attr('fill', '#222').text('Contributing genera');
  const items = lg.selectAll('g').data(cfg.genus).join('g')
    .attr('transform', (d, i) => `translate(0,${i * 11})`);
  items.append('rect').attr('width', 10).attr('height', 11)
    .attr('fill', (d, i) => GENUS_COLORS[i]).attr('stroke', '#000').attr('stroke-width', 0.9);
  items.append('text').attr('x', 14).attr('y', 7.4).attr('font-size', 5.5).attr('fill', '#333').text(d => d);
}

drawStrat({
  letter: 'A', title: 'ko00531: Glycosaminoglycan degradation', top: 88.3, samplesDy: 46.5,
  taxa: taxaA, share: minorShareA,
  total1: totalA1, total2: totalA2, blue1: blueTopA1, blue2: blueTopA2, minor1: minorTopA1, minor2: minorTopA2
});
drawStrat({
  letter: 'B', title: 'ko02040: Flagellar assembly', top: 560, samplesDy: 43.6,
  taxa: taxaB, share: minorShareB,
  total1: totalB1, total2: totalB2, blue1: blueTopB1, blue2: blueTopB2, minor1: minorTopB1, minor2: minorTopB2
});
drawAbund({ genus: genusA, abund1: abundA1, abund2: abundA2, sig: 'Akkermansia', y0: 379.3, y100: 85, legendTop: 170.7 });
drawAbund({ genus: genusB, abund1: abundB1, abund2: abundB2, sig: 'Lachnospiraceae_Pseudobutyrivibrio', y0: 848.3, y100: 559, legendTop: 640.7 });
</script>
</body>
</html>
